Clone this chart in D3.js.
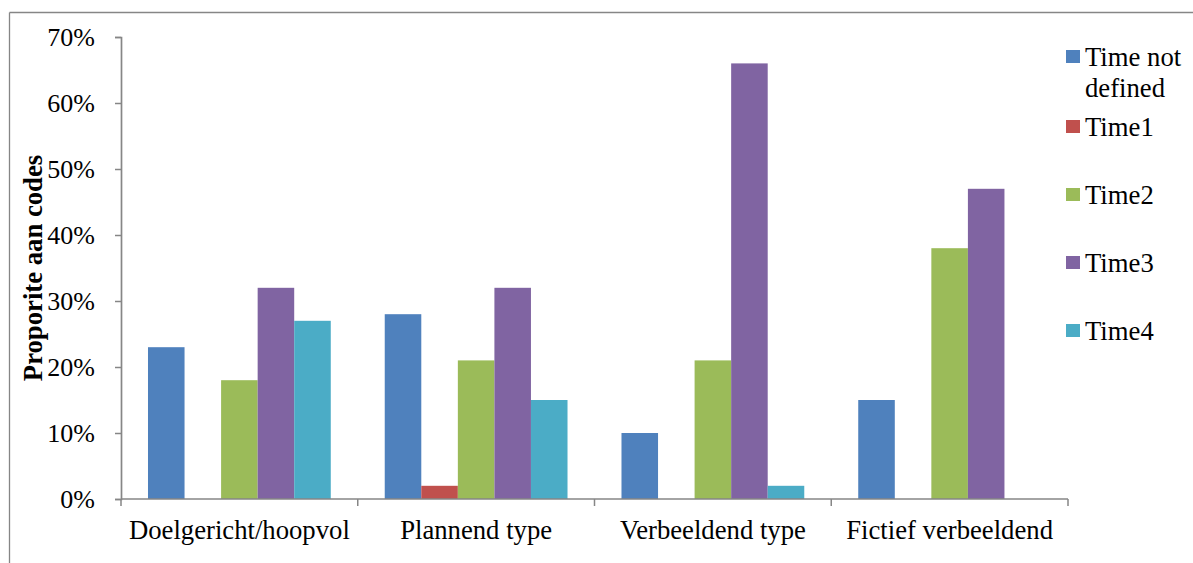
<!DOCTYPE html>
<html>
<head>
<meta charset="utf-8">
<script src="https://cdn.jsdelivr.net/npm/d3@7"></script>
<style>
  html, body { margin: 0; padding: 0; background: #fff; }
  svg { display: block; }
  svg text { font-family: "Liberation Serif", "Times New Roman", serif; fill: #000; }
</style>
</head>
<body>
<svg id="chart" width="1193" height="563"></svg>
<script>
// Categories, series and values (percent of codes)
const categories = ["Doelgericht/hoopvol", "Plannend type", "Verbeeldend type", "Fictief verbeeldend"];
const seriesNames = ["Time not defined", "Time1", "Time2", "Time3", "Time4"];
const timeNotDefined = [23, 28, 10, 15];
const time1 = [0, 2, 0, 0];
const time2 = [18, 21, 21, 38];
const time3 = [32, 32, 66, 47];
const time4 = [27, 15, 2, 0];
const seriesValues = [timeNotDefined, time1, time2, time3, time4];
const yTicks = [0, 10, 20, 30, 40, 50, 60, 70];
const colors = ["#4F81BD", "#C0504D", "#9BBB59", "#8064A2", "#4BACC6"];

const svg = d3.select("#chart");
const axisColor = "#868686";
const serif = "'Liberation Serif', 'Times New Roman', serif";

// Outer frame (top and left edges)
svg.append("line").attr("x1", 9.5).attr("y1", 12.5).attr("x2", 1193).attr("y2", 12.5)
  .attr("stroke", axisColor).attr("stroke-width", 1.3);
svg.append("line").attr("x1", 9.5).attr("y1", 12.5).attr("x2", 9.5).attr("y2", 563)
  .attr("stroke", axisColor).attr("stroke-width", 1.3);

const plot = { left: 121, right: 1068, top: 37, bottom: 499 };

const x0 = d3.scaleBand().domain(categories).range([plot.left, plot.right]).padding(0);
const bw = x0.bandwidth();
const x1 = d3.scaleBand().domain(seriesNames).range([bw * 0.114, bw * 0.886]).padding(0);
const y = d3.scaleLinear().domain([0, 70]).range([plot.bottom, plot.top]);

// Bars
const rows = categories.map((c, ci) => ({
  cat: c,
  vals: seriesNames.map((s, si) => ({ s, si, v: seriesValues[si][ci] }))
}));
const g = svg.append("g");
g.selectAll("g.grp").data(rows).join("g")
  .attr("class", "grp")
  .attr("transform", d => `translate(${x0(d.cat)},0)`)
  .selectAll("rect").data(d => d.vals).join("rect")
  .attr("x", d => x1(d.s))
  .attr("width", x1.bandwidth())
  .attr("y", d => y(d.v))
  .attr("height", d => y(0) - y(d.v))
  .attr("fill", d => colors[d.si]);

// Y axis
const yAxis = d3.axisLeft(y).tickValues(yTicks).tickFormat(d => d + "%").tickSize(6).tickPadding(20);
const yg = svg.append("g").attr("transform", `translate(${plot.left},0)`).call(yAxis)
  .attr("font-family", serif).attr("font-size", 26);
yg.select(".domain").attr("stroke", axisColor).attr("stroke-width", 1.7);
yg.selectAll(".tick line").attr("stroke", axisColor).attr("stroke-width", 1.5);
yg.selectAll(".tick text").attr("fill", "#000");

// X axis with ticks at category boundaries
const xg = svg.append("g").attr("transform", `translate(0,${plot.bottom})`);
xg.append("line").attr("x1", plot.left).attr("x2", plot.right).attr("y1", 0).attr("y2", 0)
  .attr("stroke", axisColor).attr("stroke-width", 1.7);
const bounds = categories.map(c => x0(c)).concat([plot.right]);
xg.selectAll("line.tk").data(bounds).join("line").attr("class", "tk")
  .attr("x1", d => d).attr("x2", d => d).attr("y1", 0).attr("y2", 7)
  .attr("stroke", axisColor).attr("stroke-width", 1.5);
xg.selectAll("text").data(categories).join("text")
  .attr("x", d => x0(d) + bw / 2).attr("y", 40)
  .attr("text-anchor", "middle").style("font-size", "26.7px").text(d => d);

// Y axis title
svg.append("text")
  .attr("transform", "translate(42,268) rotate(-90)")
  .attr("text-anchor", "middle")
  .style("font-size", "26.7px").style("font-weight", "bold")
  .text("Proporite aan codes");

// Legend
const legendBaselines = [[66, 97], [136], [204], [272], [340]];
const legendLines = [["Time not", "defined"], ["Time1"], ["Time2"], ["Time3"], ["Time4"]];
const lg = svg.append("g");
seriesNames.forEach((s, i) => {
  const b = legendBaselines[i];
  lg.append("rect").attr("x", 1066).attr("y", b[0] - 16).attr("width", 14).attr("height", 13)
    .attr("fill", colors[i]);
  legendLines[i].forEach((t, j) => {
    lg.append("text").attr("x", 1085).attr("y", b[j]).style("font-size", "26.7px").text(t);
  });
});
</script>
</body>
</html>
